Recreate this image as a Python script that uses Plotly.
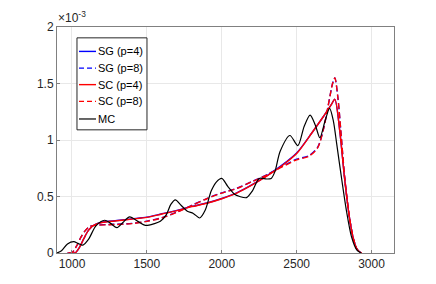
import plotly.graph_objects as go

# values in units of 1e-3
mc_x = [900, 930, 970, 1012, 1040, 1073, 1110, 1160, 1218, 1260, 1300, 1340, 1385, 1440, 1490,
        1550, 1590, 1630, 1660, 1690, 1730, 1770, 1810, 1853, 1890, 1930, 1965, 2000, 2040,
        2085, 2120, 2165, 2205, 2250, 2300, 2330, 2355, 2390, 2455, 2508, 2550, 2590, 2625,
        2655, 2690, 2720, 2745, 2767, 2800, 2833, 2867, 2900, 2930]
mc_y = [0.0, 0.02, 0.08, 0.10, 0.085, 0.07, 0.12, 0.24, 0.29, 0.26, 0.225, 0.27, 0.32, 0.28, 0.245,
        0.26, 0.28, 0.34, 0.43, 0.47, 0.42, 0.37, 0.35, 0.31, 0.38, 0.55, 0.63, 0.66, 0.59,
        0.52, 0.50, 0.49, 0.55, 0.66, 0.655, 0.66, 0.72, 0.90, 1.04, 0.95, 1.12, 1.22, 1.13,
        1.02, 1.17, 1.28, 1.17, 0.97, 0.66, 0.37, 0.14, 0.03, 0.0]

p4_x = [970, 1020, 1050, 1080, 1110, 1150, 1200, 1300, 1400, 1500, 1600, 1700, 1800, 1900, 2000,
        2100, 2200, 2300, 2400, 2500, 2600, 2680, 2730, 2755, 2787, 2820, 2853, 2880, 2905, 2933]
sc4_y = [0.0, 0.0, 0.05, 0.13, 0.20, 0.25, 0.27, 0.285, 0.30, 0.315, 0.345, 0.375, 0.41, 0.44, 0.48,
         0.53, 0.60, 0.68, 0.77, 0.88, 1.06, 1.21, 1.31, 1.36, 1.09, 0.66, 0.31, 0.12, 0.03, 0.0]
sg4_y = [0.0, 0.0, 0.05, 0.13, 0.20, 0.25, 0.272, 0.287, 0.302, 0.317, 0.347, 0.377, 0.412, 0.442, 0.482,
         0.532, 0.602, 0.682, 0.775, 0.885, 1.06, 1.21, 1.31, 1.36, 1.09, 0.66, 0.31, 0.12, 0.03, 0.0]

p8_x = [980, 1000, 1030, 1060, 1090, 1120, 1160, 1250, 1400, 1500, 1600, 1700, 1800, 1900, 2000,
        2100, 2200, 2300, 2400, 2500, 2580, 2640, 2680, 2710, 2740, 2755, 2775, 2795, 2820, 2853,
        2880, 2905, 2933]
sc8_y = [0.0, 0.0, 0.06, 0.14, 0.20, 0.235, 0.245, 0.25, 0.26, 0.28, 0.31, 0.36, 0.42, 0.48, 0.53,
         0.57, 0.63, 0.69, 0.76, 0.825, 0.855, 0.93, 1.10, 1.30, 1.50, 1.55, 1.38, 1.08, 0.68, 0.31,
         0.12, 0.03, 0.0]
sg8_y = [0.0, 0.0, 0.06, 0.14, 0.20, 0.235, 0.247, 0.252, 0.262, 0.282, 0.312, 0.362, 0.422, 0.482, 0.532,
         0.572, 0.632, 0.692, 0.765, 0.83, 0.86, 0.935, 1.10, 1.30, 1.50, 1.55, 1.38, 1.08, 0.68, 0.31,
         0.12, 0.03, 0.0]

series_names = ["SG (p=4)", "SG (p=8)", "SC (p=4)", "SC (p=8)", "MC"]

x_ticks = [1000, 1500, 2000, 2500, 3000]
y_ticks = [0, 0.5, 1, 1.5, 2]
y_ticktext = ["0", "0.5", "1", "1.5", "2"]

FONT = "Liberation Sans, Arial, sans-serif"
styles = [
    dict(color="#0000ff", width=1.4, dash="solid"),
    dict(color="#0000ff", width=1.4, dash="6px,3px"),
    dict(color="#ff0000", width=1.4, dash="solid"),
    dict(color="#ff0000", width=1.4, dash="6px,3px"),
    dict(color="#000000", width=1.2, dash="solid"),
]
xs = [p4_x, p8_x, p4_x, p8_x, mc_x]
ys = [sg4_y, sg8_y, sc4_y, sc8_y, mc_y]

fig = go.Figure()
for name, x, y, st in zip(series_names, xs, ys, styles):
    fig.add_trace(go.Scatter(x=x, y=y, mode="lines", name=name, showlegend=False,
                             line=dict(shape="spline", smoothing=0.8, **st)))

axis_common = dict(showline=True, linecolor="#808080", linewidth=1, mirror=True,
                   showgrid=True, gridcolor="#e8e8e8", gridwidth=1, zeroline=False,
                   ticks="inside", ticklen=3, tickcolor="#808080",
                   tickfont=dict(family=FONT, size=12, color="#262626"))

fig.update_xaxes(range=[900, 3150], tickvals=x_ticks, **axis_common)
fig.update_yaxes(range=[0, 2], tickvals=y_ticks, ticktext=y_ticktext, **axis_common)

fig.add_annotation(x=0, y=1, xref="paper", yref="paper", xanchor="left", yanchor="bottom",
                   text="×10<sup>-3</sup>", showarrow=False, xshift=-1, yshift=0,
                   font=dict(family=FONT, size=12, color="#262626"))

# legend box drawn in paper coordinates
leg_x0, leg_x1, leg_y0, leg_y1 = 0.0593, 0.267, 0.545, 0.952
fig.add_shape(type="rect", xref="paper", yref="paper", x0=leg_x0, x1=leg_x1, y0=leg_y0, y1=leg_y1,
              line=dict(color="#262626", width=1), fillcolor="white", layer="above")
entry_y = [0.892, 0.818, 0.745, 0.671, 0.593]
legend_dash = {"solid": "solid", "6px,3px": "5px,3px"}
for name, st, ey in zip(series_names, styles, entry_y):
    fig.add_shape(type="line", xref="paper", yref="paper", x0=0.0653, x1=0.1157, y0=ey, y1=ey,
                  line=dict(color=st["color"], width=st["width"], dash=legend_dash[st["dash"]]),
                  layer="above")
    fig.add_annotation(x=0.1187, y=ey, xref="paper", yref="paper", xanchor="left", yanchor="middle",
                       text=name, showarrow=False, borderpad=0,
                       font=dict(family=FONT, size=11, color="#000000"))

fig.update_layout(
    width=436, height=284,
    margin=dict(l=49, r=50, t=14, b=39),
    paper_bgcolor="white", plot_bgcolor="white",
    showlegend=False,
)

fig.write_html("out.html")
